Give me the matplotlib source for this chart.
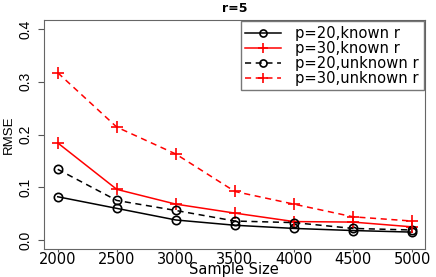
import numpy as np
import matplotlib.pyplot as plt

plt.rcParams['font.family'] = ['DejaVu Sans']

# data
sample_size = [2000, 2500, 3000, 3500, 4000, 4500, 5000]
p20_known = [0.082, 0.060, 0.038, 0.028, 0.022, 0.018, 0.015]
p30_known = [0.184, 0.096, 0.068, 0.051, 0.035, 0.034, 0.025]
p20_unknown = [0.134, 0.075, 0.056, 0.036, 0.033, 0.022, 0.019]
p30_unknown = [0.317, 0.214, 0.163, 0.092, 0.068, 0.044, 0.036]

fig = plt.figure(figsize=(4.36, 2.77), dpi=100)
ax = fig.add_axes([43.7 / 436, 1 - 249 / 277, (425 - 43.7) / 436, (249 - 20) / 277])

ax.plot(sample_size, p20_known, color='black', lw=1.1, marker='o', ms=6,
        mfc='none', mew=1.2, label='p=20,known r')
ax.plot(sample_size, p30_known, color='red', lw=1.1, marker='+', ms=8,
        mew=1.2, label='p=30,known r')
ax.plot(sample_size, p20_unknown, color='black', lw=1.1, ls=(0, (4, 3)), marker='o', ms=6,
        mfc='none', mew=1.2, label='p=20,unknown r')
ax.plot(sample_size, p30_unknown, color='red', lw=1.1, ls=(0, (4, 3)), marker='+', ms=8,
        mew=1.2, label='p=30,unknown r')

ax.set_xlim(1881, 5110)
ax.set_ylim(-0.017, 0.417)
ax.set_xticks(sample_size)
ax.set_yticks([0.0, 0.1, 0.2, 0.3, 0.4])
ax.set_yticklabels(['0.0', '0.1', '0.2', '0.3', '0.4'], rotation=90, va='center',
                   family='Liberation Sans', fontsize=10)
ax.tick_params(axis='x', labelsize=10.5, length=2, color='#555555', pad=0.5)
ax.tick_params(axis='y', length=4, color='#555555', pad=4)
for s in ax.spines.values():
    s.set_color('#666666')

fig.text((43.7 + 425) / 2 / 436, 0.0, 'Sample Size', fontsize=10.5,
         ha='center', va='bottom')
ax.set_ylabel('RMSE', fontsize=9.5, family='Liberation Sans', labelpad=3)
ax.set_title('r=5', fontsize=9, fontweight='bold', pad=6)

leg = ax.legend(loc='upper right', fontsize=10.6, frameon=True, fancybox=False,
                edgecolor='#555555', handlelength=2.4, borderaxespad=0.1,
                labelspacing=0.0, handletextpad=1.0, borderpad=0.3, markerscale=0.85)
leg.get_frame().set_linewidth(1.0)

plt.savefig('out.png', dpi=100)
